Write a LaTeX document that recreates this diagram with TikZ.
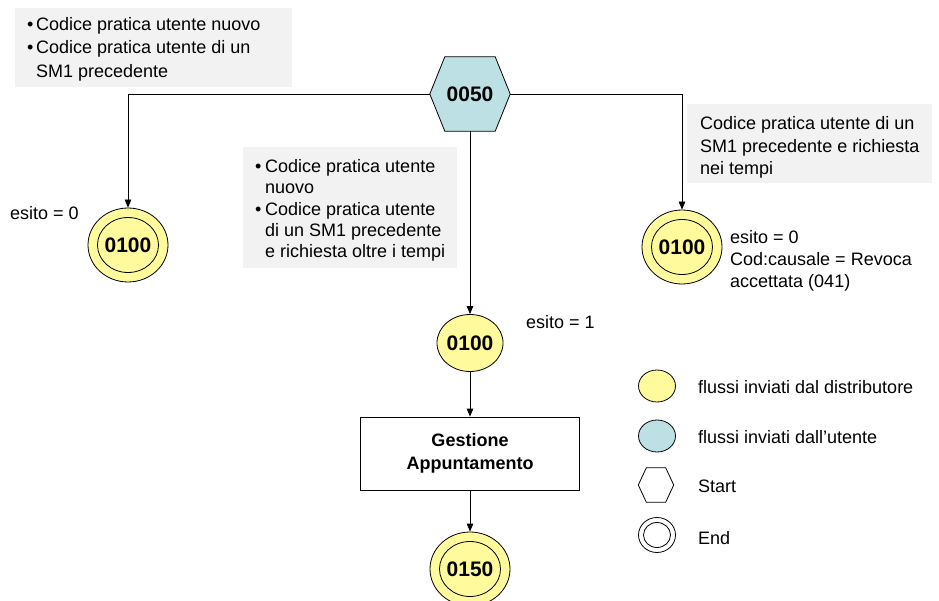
\documentclass[tikz,border=0pt]{standalone}
\usepackage{fontspec}
\setmainfont{Liberation Sans}
\usetikzlibrary{shapes.geometric,arrows.meta,calc}
\definecolor{yel}{HTML}{FFFA9C}
\definecolor{cyanfill}{HTML}{BCE0E3}
\definecolor{boxgray}{HTML}{F2F2F2}
\newcommand{\bul}[1]{\makebox[#1][l]{•}}
\begin{document}
\begin{tikzpicture}[x=1pt,y=-1pt,
  line/.style={draw=black, line width=0.8pt},
  arr/.style={line, -{Triangle[length=8pt,width=6.5pt]}},
  numtxt/.style={font=\fontsize{21}{24}\selectfont\bfseries},
  txt/.style={font=\fontsize{18}{22}\selectfont, inner sep=0pt, anchor=west, align=left},
  endstate/.style={ellipse, line, fill=yel, inner sep=0pt, minimum width=80pt, minimum height=74pt, numtxt},
  ring/.style={ellipse, line, inner sep=0pt, minimum width=61pt, minimum height=55pt},
  state/.style={ellipse, line, fill=yel, inner sep=0pt, minimum width=61pt, minimum height=57pt, numtxt},
  hexframe/.style={rectangle, inner sep=0pt, minimum width=80pt, minimum height=74pt},
  graybox/.style={rectangle, fill=boxgray, inner sep=0pt, anchor=north west},
  procbox/.style={rectangle, line, minimum width=219pt, minimum height=73pt, align=center, font=\fontsize{18}{23}\selectfont\bfseries}
]
\useasboundingbox (0,0) rectangle (939,601);

% gray comment boxes
\node[graybox, minimum width=277pt, minimum height=79pt] (g1) at (15,8) {};
\node[txt, font=\fontsize{18}{23.5}\selectfont] (t1) at (27,49)
  {\bul{9pt}Codice pratica utente nuovo\\\bul{9pt}Codice pratica utente di un\\\hspace*{9pt}SM1 precedente};
\node[graybox, minimum width=214pt, minimum height=121pt] (g2) at (243,147) {};
\node[txt, font=\fontsize{18}{21.3}\selectfont] (t2) at (255,210.5)
  {\bul{10pt}Codice pratica utente\\\hspace*{10pt}nuovo\\\bul{10pt}Codice pratica utente\\\hspace*{10pt}di un SM1 precedente\\\hspace*{10pt}e richiesta oltre i tempi};
\node[graybox, minimum width=245pt, minimum height=79pt] (g3) at (687,104) {};
\node[txt, font=\fontsize{18}{22.5}\selectfont] (t3) at (700,147.5)
  {Codice pratica utente di un\\SM1 precedente e richiesta\\nei tempi};

% start hexagon
\node[hexframe] (hex) at (470,94) {};
\filldraw[line, fill=cyanfill] (hex.west) -- ([xshift=15pt]hex.north west) -- ([xshift=-15pt]hex.north east)
  -- (hex.east) -- ([xshift=-15pt]hex.south east) -- ([xshift=15pt]hex.south west) -- cycle;
\node[numtxt] (hexlabel) at (hex) {0050};

% states
\node[endstate] (c1) at (128,245) {0100};
\node[ring] (c1r) at (c1) {};
\node[endstate] (c3) at (682,247) {0100};
\node[ring] (c3r) at (c3) {};
\node[state] (c2) at (470,343) {0100};
\node[procbox] (proc) at (470,453.5) {Gestione\\Appuntamento};
\node[endstate] (c4) at (470,569) {0150};
\node[ring] (c4r) at (c4) {};

% connectors
\draw[arr] (hex.west) -| (c1.north);
\draw[arr] (hex.east) -| (c3.north);
\draw[arr] (hex.south) -- (c2.north);
\draw[arr] (c2.south) -- (proc.north);
\draw[arr] (proc.south) -- (c4.north);

% labels
\node[txt] (l1) at (10,213) {esito = 0};
\node[txt] (l2) at (526,322) {esito = 1};
\node[txt] (l3) at (730,261) {esito = 0\\Cod:causale = Revoca\\accettata (041)};

% legend
\node[ellipse, line, fill=yel, minimum width=37pt, minimum height=32pt, inner sep=0pt] (k1) at (657,386) {};
\node[txt] (k1t) at (698,387) {flussi inviati dal distributore};
\node[ellipse, line, fill=cyanfill, minimum width=37pt, minimum height=32pt, inner sep=0pt] (k2) at (657,436) {};
\node[txt] (k2t) at (698,437) {flussi inviati dall’utente};
\node[rectangle, inner sep=0pt, minimum width=35pt, minimum height=34pt] (k3) at (656,485) {};
\draw[line] (k3.west) -- ([xshift=8pt]k3.north west) -- ([xshift=-8pt]k3.north east)
  -- (k3.east) -- ([xshift=-8pt]k3.south east) -- ([xshift=8pt]k3.south west) -- cycle;
\node[txt] (k3t) at (698,486) {Start};
\node[ellipse, line, minimum width=37pt, minimum height=35pt, inner sep=0pt] (k4) at (657,535) {};
\node[ellipse, line, minimum width=27pt, minimum height=25pt, inner sep=0pt] (k4r) at (k4) {};
\node[txt] (k4t) at (698,538) {End};
\end{tikzpicture}
\end{document}
